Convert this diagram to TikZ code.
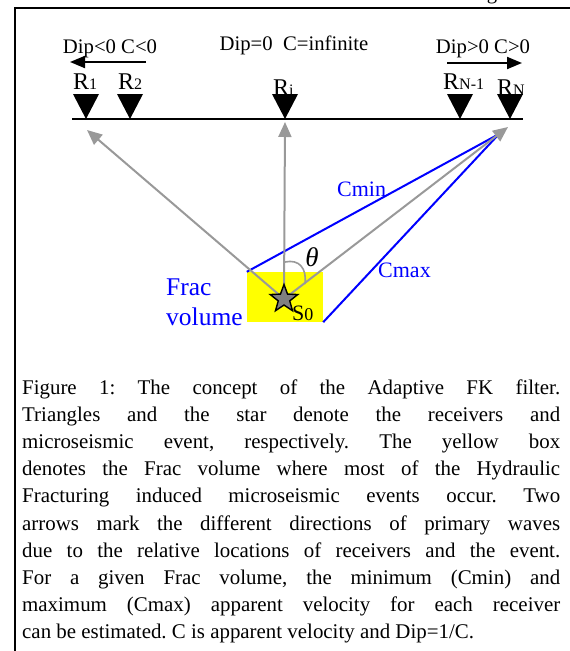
\documentclass[tikz,border=0pt]{standalone}
\usepackage{fontspec}
\setmainfont{Liberation Serif}
\usetikzlibrary{arrows.meta,shapes.geometric}
\frenchspacing

\definecolor{raygray}{RGB}{153,153,153}
\definecolor{fracyellow}{RGB}{255,255,0}
\definecolor{velblue}{RGB}{0,0,255}

% receiver label: large R with a smaller index
\newcommand\recname[1]{{\fontsize{24}{24}\selectfont R}{\fontsize{16}{16}\selectfont #1}}

\tikzset{
  lbl/.style={inner sep=0pt, anchor=base, font=\fontsize{20.7}{24}\selectfont},
  rlabel/.style={inner sep=0pt, anchor=base west},
  bluelbl/.style={inner sep=0pt, anchor=base west, text=velblue, font=\fontsize{22}{24}\selectfont},
  fraclbl/.style={inner sep=0pt, anchor=base west, text=velblue, font=\fontsize{25.5}{30}\selectfont},
  capline/.style={inner sep=0pt, anchor=base west, font=\fontsize{20.9}{27}\selectfont},
  ray/.style={draw=raygray, line width=2pt, -{Triangle[length=15pt,width=13pt]}},
  dirarrow/.style={draw=black, line width=2pt, -{Triangle[length=15pt,width=12pt]}},
  velline/.style={draw=velblue, line width=2pt},
  recvtri/.style={fill=black},
  fracbox/.style={fill=fracyellow, inner sep=0pt, minimum width=76pt, minimum height=50pt},
  source/.style={star, star points=5, star point ratio=2.4, minimum size=29pt,
    inner sep=0pt, fill=gray, draw=black, line width=1.4pt},
}

\begin{document}
\begin{tikzpicture}[x=1pt, y=-1pt]
\useasboundingbox (0,0) rectangle (570,651);

% frame of the figure
\draw[line width=2.6pt] (570,8) -- (15,8) -- (15,651);
\node[lbl] (topg) at (492,-1) {g};

% receiver line and receivers
\coordinate (lineL) at (72,119);
\coordinate (lineR) at (523,119);
\draw[line width=2.4pt] (lineL) -- (lineR);
\coordinate (r1) at (86,119);
\coordinate (r2) at (130,119);
\coordinate (ri) at (285,119);
\coordinate (rn1) at (460,119);
\coordinate (rn) at (510,119);
\foreach \r in {r1,r2,ri,rn1,rn}
  \fill[recvtri] (\r) -- ++(-13,-25) -- ++(26,0) -- cycle;

\node[rlabel] (lr1) at (73,89) {\recname{1}};
\node[rlabel] (lr2) at (118,89) {\recname{2}};
\node[rlabel] (lri) at (273,95) {\recname{i}};
\node[rlabel] (lrn1) at (443,89) {\recname{N-1}};
\node[rlabel] (lrn) at (497,95) {\recname{N}};

% dip sign labels and move-out directions
\node[lbl] (dipneg) at (110,53) {Dip<0 C<0};
\node[lbl] (dipzero) at (294,50) {Dip=0\ \ C=infinite};
\node[lbl] (dippos) at (483,53) {Dip>0 C>0};
\coordinate (negA) at (146,62);
\coordinate (negB) at (70,62);
\coordinate (posA) at (447,63);
\coordinate (posB) at (522,63);
\draw[dirarrow] (negA) -- (negB);
\draw[dirarrow] (posA) -- (posB);

% frac volume
\node[fracbox] (frac) at (285,297) {};
\node[fraclbl] (fractxt) at (166,295) {Frac};
\node[fraclbl] (voltxt) at (166,325) {volume};

% event location
\coordinate (s0pos) at (284,299);
\coordinate (tip1) at (87,130);
\coordinate (tipi) at (285,122);
\coordinate (tipn) at (508,127);
\coordinate (cv) at (499,134);

% apparent velocity bounds
\draw[velline] (frac.north west) -- (cv);
\draw[velline] (frac.south east) -- (cv);
\node[bluelbl] (cmin) at (337,196) {Cmin};
\node[bluelbl] (cmax) at (378,277) {Cmax};

% ray paths to the receivers
\draw[ray] (s0pos) -- (tip1);
\draw[ray] (s0pos) -- (tipi);
\draw[ray] (s0pos) -- (tipn);

% incidence angle
\draw[draw=raygray, line width=1.6pt] (285,262) .. controls (299,259) and (307,268) .. (305,284);
\node[inner sep=0pt, font=\fontsize{27}{27}\selectfont\itshape] (theta) at (312,257) {θ};

\node[source] (s0) at (s0pos) {};
\node[rlabel] (s0lbl) at (292,320) {{\fontsize{22}{22}\selectfont S}{\fontsize{18}{18}\selectfont 0}};

% caption
\node[capline] (cap1) at (22,394) {\makebox[538pt][s]{Figure 1: The concept of the Adaptive FK filter.}};
\node[capline] (cap2) at (22,421.2) {\makebox[538pt][s]{Triangles and the star denote the receivers and}};
\node[capline] (cap3) at (22,448.4) {\makebox[538pt][s]{microseismic event, respectively. The yellow box}};
\node[capline] (cap4) at (22,475.6) {\makebox[538pt][s]{denotes the Frac volume where most of the Hydraulic}};
\node[capline] (cap5) at (22,502.8) {\makebox[538pt][s]{Fracturing induced microseismic events occur. Two}};
\node[capline] (cap6) at (22,530) {\makebox[538pt][s]{arrows mark the different directions of primary waves}};
\node[capline] (cap7) at (22,557.2) {\makebox[538pt][s]{due to the relative locations of receivers and the event.}};
\node[capline] (cap8) at (22,584.4) {\makebox[538pt][s]{For a given Frac volume, the minimum (Cmin) and}};
\node[capline] (cap9) at (22,611.6) {\makebox[538pt][s]{maximum (Cmax) apparent velocity for each receiver}};
\node[capline] (cap10) at (22,638.8) {can be estimated. C is apparent velocity and Dip=1/C.};
\end{tikzpicture}
\end{document}
